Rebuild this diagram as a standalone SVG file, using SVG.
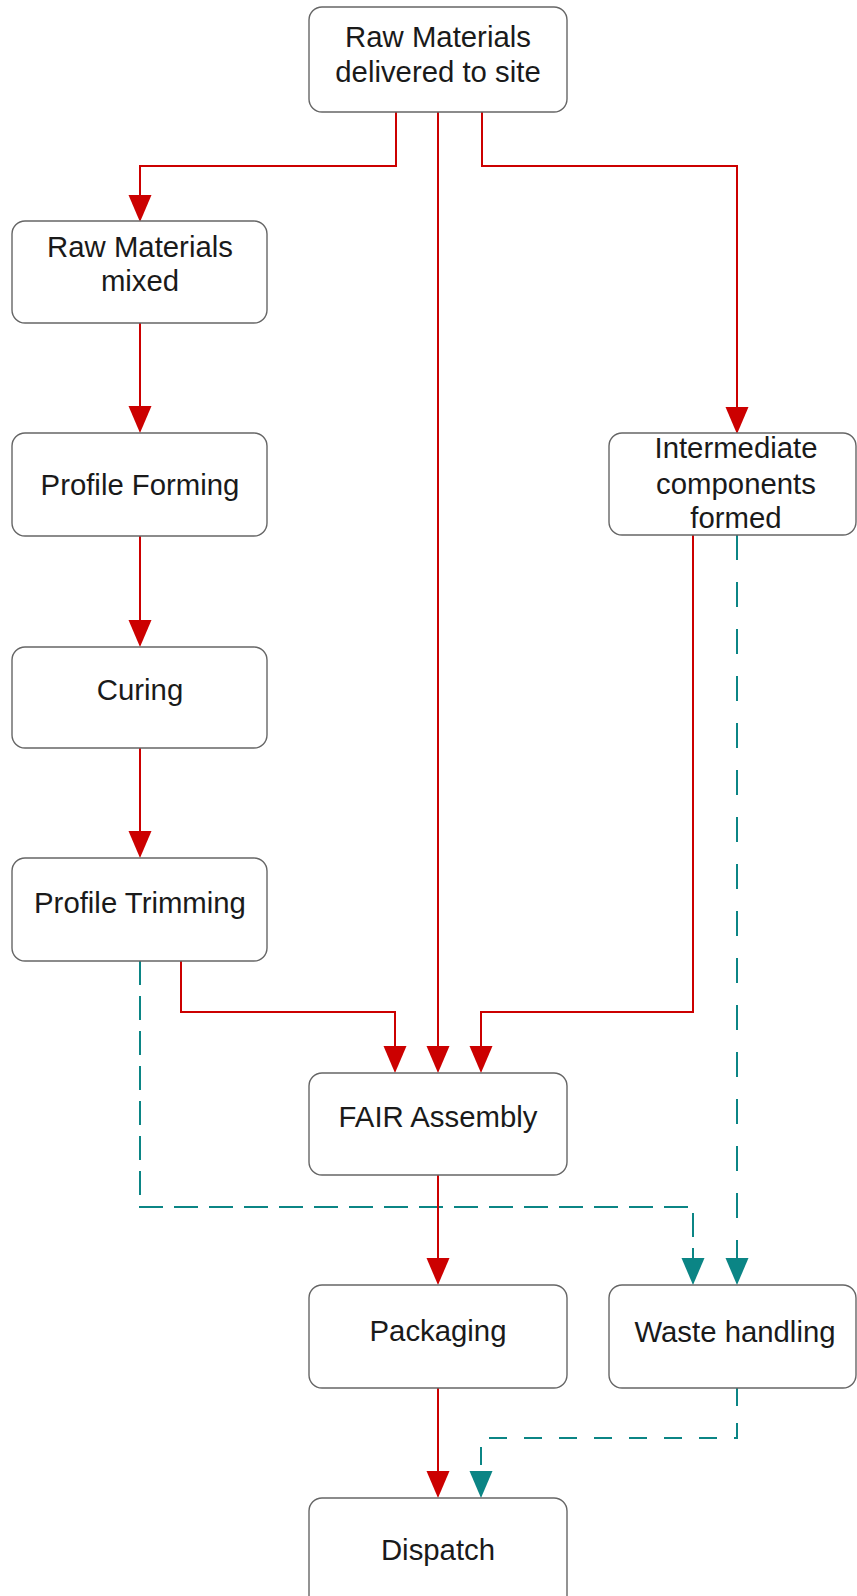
<svg xmlns="http://www.w3.org/2000/svg" width="857" height="1596" viewBox="0 0 857 1596">
<style>
.box{fill:#fff;stroke:#666;stroke-width:1.4}
.t{font-family:"Liberation Sans",Arial,sans-serif;font-size:29.33px;fill:#1a1a1a;text-anchor:middle}
.r{fill:none;stroke:#cc0000;stroke-width:2}
.g{fill:none;stroke:#0b8585;stroke-width:2}
</style>
<defs>
<marker id="ar" markerUnits="userSpaceOnUse" markerWidth="28" markerHeight="24" refX="0" refY="11.5" orient="auto" overflow="visible"><path d="M0,0 L27,11.5 L0,23 z" fill="#cc0000"/></marker>
<marker id="ag" markerUnits="userSpaceOnUse" markerWidth="28" markerHeight="24" refX="0" refY="11.5" orient="auto" overflow="visible"><path d="M0,0 L27,11.5 L0,23 z" fill="#0b8585"/></marker>
</defs>
<rect width="857" height="1596" fill="#fff"/>
<g id="connectors">
<path class="r" marker-end="url(#ar)" d="M396,112 V166 H140 V195"/>
<path class="r" marker-end="url(#ar)" d="M438,112 V1046"/>
<path class="r" marker-end="url(#ar)" d="M482,112 V166 H737 V407"/>
<path class="r" marker-end="url(#ar)" d="M140,323 V406"/>
<path class="r" marker-end="url(#ar)" d="M140,536 V620"/>
<path class="r" marker-end="url(#ar)" d="M140,748 V831"/>
<path class="r" marker-end="url(#ar)" d="M181,961 V1012 H395 V1046"/>
<path class="r" marker-end="url(#ar)" d="M693,535 V1012 H481 V1046"/>
<path class="g" marker-end="url(#ag)" stroke-dasharray="25 22" d="M737,535 V1258"/>
<path class="g" marker-end="url(#ag)" stroke-dasharray="24 11" d="M140,961 V1207 H693 V1258"/>
<path class="r" marker-end="url(#ar)" d="M438,1175 V1258"/>
<path class="r" marker-end="url(#ar)" d="M438,1388 V1471"/>
<path class="g" marker-end="url(#ag)" stroke-dasharray="18 17" d="M737,1388 V1438 H481 V1471"/>
</g>
<g id="n-delivered"><rect class="box" x="309" y="7" width="258" height="105" rx="13"/><text class="t" x="438" y="47">Raw Materials</text><text class="t" x="438" y="82">delivered to site</text></g>
<g id="n-mixed"><rect class="box" x="12" y="221" width="255" height="102" rx="13"/><text class="t" x="140" y="257">Raw Materials</text><text class="t" x="140" y="291">mixed</text></g>
<g id="n-forming"><rect class="box" x="12" y="433" width="255" height="103" rx="13"/><text class="t" x="140" y="495">Profile Forming</text></g>
<g id="n-curing"><rect class="box" x="12" y="647" width="255" height="101" rx="13"/><text class="t" x="140" y="700">Curing</text></g>
<g id="n-trimming"><rect class="box" x="12" y="858" width="255" height="103" rx="13"/><text class="t" x="140" y="913">Profile Trimming</text></g>
<g id="n-intermediate"><rect class="box" x="609" y="433" width="247" height="102" rx="13"/><text class="t" x="736" y="458">Intermediate</text><text class="t" x="736" y="494">components</text><text class="t" x="736" y="528">formed</text></g>
<g id="n-fair"><rect class="box" x="309" y="1073" width="258" height="102" rx="13"/><text class="t" x="438" y="1127">FAIR Assembly</text></g>
<g id="n-packaging"><rect class="box" x="309" y="1285" width="258" height="103" rx="13"/><text class="t" x="438" y="1341">Packaging</text></g>
<g id="n-waste"><rect class="box" x="609" y="1285" width="247" height="103" rx="13"/><text class="t" x="735" y="1342">Waste handling</text></g>
<g id="n-dispatch"><rect class="box" x="309" y="1498" width="258" height="120" rx="13"/><text class="t" x="438" y="1560">Dispatch</text></g>
</svg>
